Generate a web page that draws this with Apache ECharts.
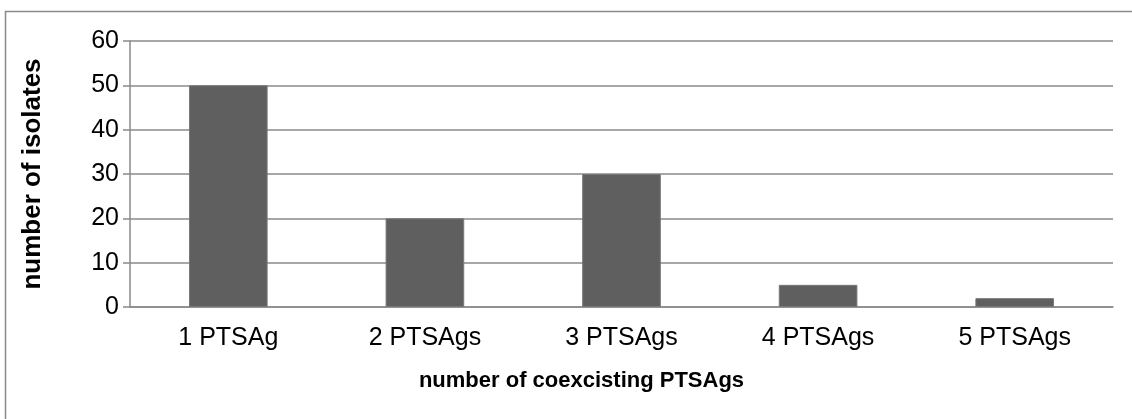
<!DOCTYPE html>
<html>
<head>
<meta charset="utf-8">
<title>number of coexcisting PTSAgs</title>
<script src="https://cdn.jsdelivr.net/npm/echarts@6/dist/echarts.min.js"></script>
<style>
  html, body { margin: 0; padding: 0; background: #ffffff; }
  #chart { width: 1132px; height: 419px; }
</style>
</head>
<body>
<div id="chart"></div>
<script>
// Isolates grouped by how many PTSAg genes they carry
const categories = ['1 PTSAg', '2 PTSAgs', '3 PTSAgs', '4 PTSAgs', '5 PTSAgs'];
const isolates = [50, 20, 30, 5, 2];
const yTicks = { min: 0, max: 60, interval: 10 };

const font = '"Liberation Sans", Arial, sans-serif';
const chart = echarts.init(document.getElementById('chart'), null, { renderer: 'canvas' });

chart.setOption({
  animation: false,
  backgroundColor: '#ffffff',
  graphic: [{
    type: 'rect',
    shape: { x: 5.5, y: 11.5, width: 1300, height: 600 },
    style: { fill: 'none', stroke: '#8a8a8a', lineWidth: 1.5 },
    silent: true
  }],
  grid: { left: 130, right: 19, top: 41, bottom: 112, containLabel: false },
  xAxis: {
    type: 'category',
    data: categories,
    name: 'number of coexcisting PTSAgs',
    nameLocation: 'middle',
    nameGap: 63,
    nameTextStyle: { fontFamily: font, fontSize: 22, fontWeight: 'bold', color: '#000', padding: [0, 80, 0, 0] },
    axisLine: { show: true, lineStyle: { color: '#8a8a8a', width: 1.5 } },
    axisTick: { show: false },
    axisLabel: { fontFamily: font, fontSize: 25, color: '#000', margin: 19 },
    splitLine: { show: false }
  },
  yAxis: {
    type: 'value',
    min: yTicks.min,
    max: yTicks.max,
    interval: yTicks.interval,
    name: 'number of isolates',
    nameLocation: 'middle',
    nameGap: 84,
    nameTextStyle: { fontFamily: font, fontSize: 26, fontWeight: 'bold', color: '#000' },
    axisLine: { show: true, lineStyle: { color: '#8a8a8a', width: 1.5 } },
    axisTick: { show: true, length: 7, lineStyle: { color: '#8a8a8a', width: 1.5 } },
    axisLabel: { fontFamily: font, fontSize: 25, color: '#000', margin: 11 },
    splitLine: { show: true, lineStyle: { color: '#8a8a8a', width: 1.5 } }
  },
  series: [{
    type: 'bar',
    data: isolates,
    barWidth: '40%',
    itemStyle: { color: '#5f5f5f', borderColor: '#787878', borderWidth: 1 }
  }]
});
</script>
</body>
</html>
